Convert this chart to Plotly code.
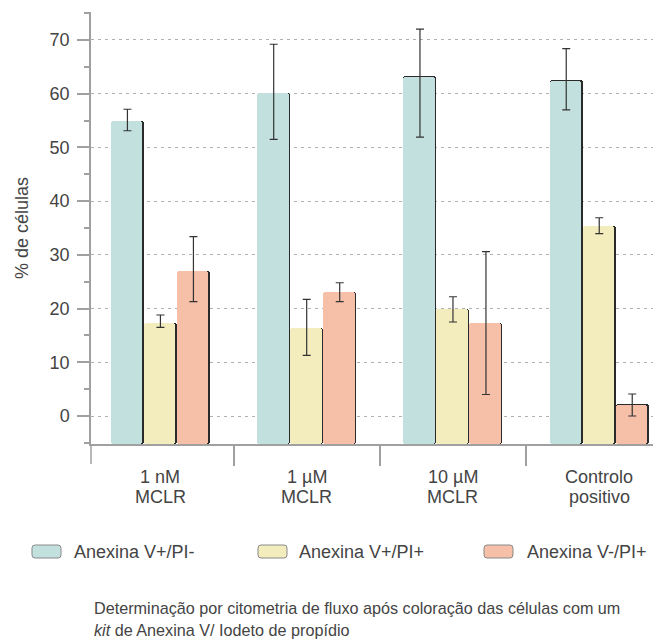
import plotly.graph_objects as go

# ---------------- data ----------------
categories = ["1 nM<br>MCLR", "1 µM<br>MCLR", "10 µM<br>MCLR", "Controlo<br>positivo"]
series_names = ["Anexina V+/PI-", "Anexina V+/PI+", "Anexina V-/PI+"]

teal_vals = [55.0, 60.2, 63.2, 62.5]
teal_err_plus = [2.1, 9.0, 8.8, 5.9]
teal_err_minus = [1.9, 8.7, 11.3, 5.5]

yellow_vals = [17.4, 16.4, 20.0, 35.4]
yellow_err_plus = [1.4, 5.3, 2.2, 1.5]
yellow_err_minus = [0.9, 5.1, 2.5, 1.45]

salmon_vals = [27.0, 23.1, 17.4, 2.2]
salmon_err_plus = [6.4, 1.7, 13.2, 1.9]
salmon_err_minus = [5.7, 1.8, 13.4, 2.2]

y_tick_vals = [0, 10, 20, 30, 40, 50, 60, 70]
y_tick_text = ["0", "10", "20", "30", "40", "50", "60", "70"]

caption_line1 = "Determinação por citometria de fluxo após coloração das células com um"
caption_line2 = "<i>kit</i> de Anexina V/ Iodeto de propídio"
y_title = "% de células"

# ---------------- styles ----------------
colors = ["#c2e1de", "#f3ecbd", "#f5bfa8"]
FONT = "Liberation Sans, Arial, sans-serif"
TXT = "#444444"
AXC = "#a0a0a0"

OFF = 8  # page body margin
W, H = 661 - OFF, 643 - OFF
ML, MR, MT = 91 - OFF, 0, 12 - OFF
PLOT_BOTTOM = 444 - OFF
MB = H - PLOT_BOTTOM
PW, PH = W - ML - MR, H - MT - MB

y_min, y_max = -5.21, 75.2
x_min, x_max = -0.4747, 3.4222
px_per_x = PW / (x_max - x_min)
px_per_y = PH / (y_max - y_min)
bar_w = 33 / px_per_x

series = [
    (teal_vals, teal_err_plus, teal_err_minus),
    (yellow_vals, yellow_err_plus, yellow_err_minus),
    (salmon_vals, salmon_err_plus, salmon_err_minus),
]

fig = go.Figure()
idx = list(range(len(categories)))

# shadows (dark right edge)
for k, (vals, ep, em) in enumerate(series):
    xs = [i + (k - 1) * bar_w for i in idx]
    fig.add_trace(go.Bar(
        x=xs, y=[v - y_min for v in vals], base=y_min, width=bar_w,
        marker=dict(color="#2a2a2a", line=dict(width=0), cornerradius=3),
        hoverinfo="skip", showlegend=False))

# fills
for k, (vals, ep, em) in enumerate(series):
    xs = [i + (k - 1) * bar_w - 0.75 / px_per_x for i in idx]
    fig.add_trace(go.Bar(
        x=xs, y=[v - y_min - 0.5 / px_per_y for v in vals], base=y_min,
        width=bar_w - 1.5 / px_per_x, name=series_names[k],
        marker=dict(color=colors[k], line=dict(width=0), cornerradius=3),
        showlegend=False))

# error bars
for k, (vals, ep, em) in enumerate(series):
    xs = [i + (k - 1) * bar_w for i in idx]
    fig.add_trace(go.Scatter(
        x=xs, y=vals, mode="markers", marker=dict(size=1, opacity=0),
        error_y=dict(type="data", symmetric=False, array=ep, arrayminus=em,
                     color="#333333", thickness=1.2, width=4),
        hoverinfo="skip", showlegend=False))


def pp(px, py):
    """reference-window pixel -> paper coords"""
    px, py = px - OFF, py - OFF
    return (px - ML) / PW, (PLOT_BOTTOM - py) / PH


def rrect(x0, y0, x1, y1, r=3):
    def P(a, b):
        u, v = pp(a, b)
        return f"{u:.5f},{v:.5f}"
    return (f"M{P(x0 + r, y0)} L{P(x1 - r, y0)} Q{P(x1, y0)} {P(x1, y0 + r)} "
            f"L{P(x1, y1 - r)} Q{P(x1, y1)} {P(x1 - r, y1)} L{P(x0 + r, y1)} "
            f"Q{P(x0, y1)} {P(x0, y1 - r)} L{P(x0, y0 + r)} Q{P(x0, y0)} {P(x0 + r, y0)} Z")


shapes = []
# y axis extension below x axis
shapes.append(dict(type="line", xref="paper", yref="paper", x0=0, x1=0,
                   y0=0, y1=-20 / PH, line=dict(color=AXC, width=1.5)))

annotations = []
# category labels (two lines each, tight line spacing)
for i, cat in enumerate(categories):
    lines = cat.split("<br>")
    for j, line in enumerate(lines):
        _, v = pp(0, 477 + 20 * j)
        annotations.append(dict(xref="x", yref="paper", x=i, y=v, xanchor="center",
                                yanchor="middle", text=line, showarrow=False,
                                font=dict(family=FONT, size=18, color=TXT)))

legend_pos = [(32, 72), (258, 297), (484, 525)]
for k, (sx, tx) in enumerate(legend_pos):
    shapes.append(dict(type="path", xref="paper", yref="paper",
                       path=rrect(sx, 545, sx + 29, 558),
                       fillcolor=colors[k], line=dict(color="#8a8a8a", width=1)))
    u, v = pp(tx, 551.5)
    annotations.append(dict(xref="paper", yref="paper", x=u, y=v, xanchor="left",
                            yanchor="middle", text=series_names[k], showarrow=False,
                            font=dict(family=FONT, size=18, color=TXT)))

for text, py in [(caption_line1, 608), (caption_line2, 630)]:
    u, v = pp(92, py)
    annotations.append(dict(xref="paper", yref="paper", x=u, y=v, xanchor="left",
                            yanchor="middle", text=text, showarrow=False,
                            font=dict(family=FONT, size=16.2, color=TXT)))

fig.update_layout(
    width=W, height=H, margin=dict(l=ML, r=MR, t=MT, b=MB, autoexpand=False),
    plot_bgcolor="white", paper_bgcolor="white",
    barmode="overlay", bargap=0,
    font=dict(family=FONT, size=18, color=TXT),
    shapes=shapes, annotations=annotations,
    xaxis=dict(range=[x_min, x_max], tickmode="array", tickvals=idx,
               ticktext=["" for _ in idx], ticks="",
               showline=True, linecolor=AXC, linewidth=1.5, showgrid=False, zeroline=False,
               minor=dict(tickmode="array", tickvals=[0.5, 1.5, 2.5], ticks="outside",
                          ticklen=20, tickcolor=AXC, tickwidth=1.5, showgrid=False)),
    yaxis=dict(range=[y_min, y_max], tickmode="array", tickvals=y_tick_vals, ticktext=y_tick_text,
               ticks="outside", ticklen=12, tickcolor=AXC, tickwidth=1.5,
               showline=True, linecolor=AXC, linewidth=1.5,
               showgrid=True, gridcolor="#b0b0b0", gridwidth=1, griddash="3px,4px",
               zeroline=False, ticklabelstandoff=4,
               tickfont=dict(family=FONT, size=18, color=TXT),
               title=dict(text=y_title, standoff=16, font=dict(family=FONT, size=18, color=TXT)),
               minor=dict(tickmode="linear", tick0=0, dtick=5, ticks="outside", ticklen=5,
                          tickcolor=AXC, tickwidth=1.5, showgrid=False)),
)

fig.write_html("out.html")
